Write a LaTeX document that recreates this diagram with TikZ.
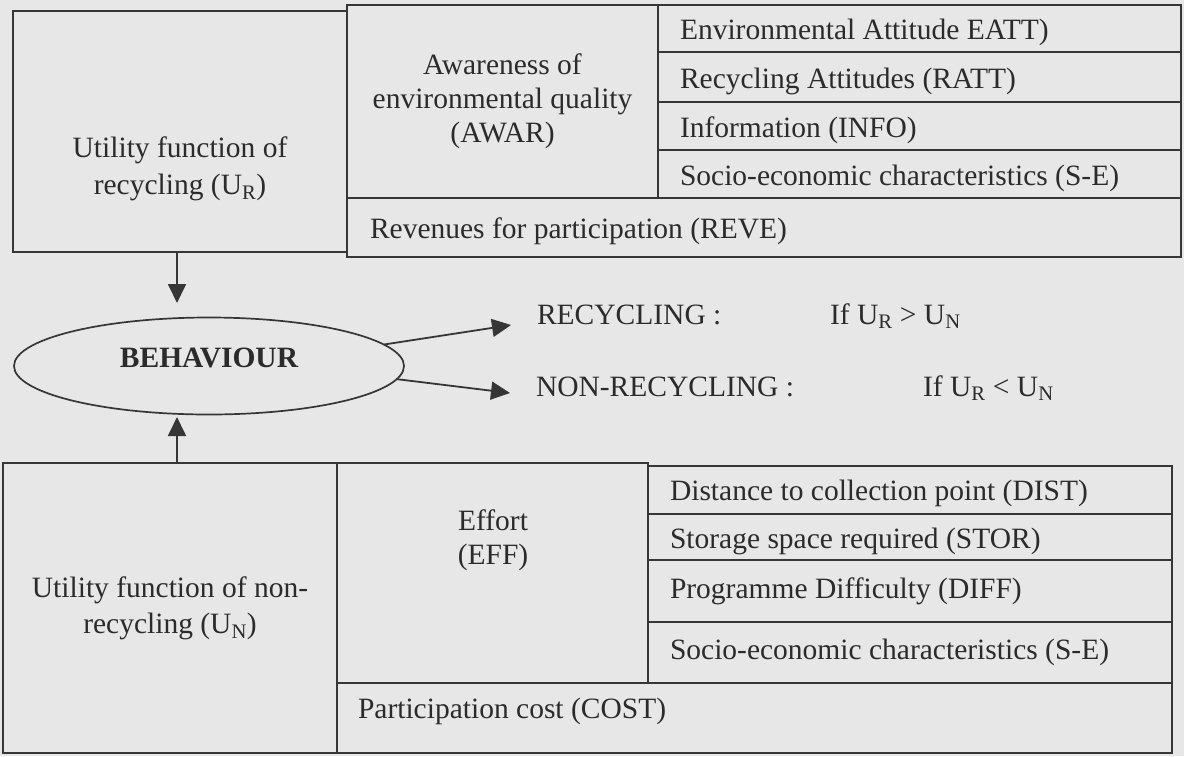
\documentclass[tikz,border=0pt]{standalone}
\usepackage{fontspec}
\setmainfont{Liberation Serif}
\usetikzlibrary{arrows.meta,shapes.geometric}
\definecolor{paper}{HTML}{E7E7E7}
\definecolor{ink}{HTML}{2B2B2B}
\definecolor{rule}{HTML}{363636}
\begin{document}
\begin{tikzpicture}[x=1pt,y=-1pt,
  txt/.style={text=ink,font=\fontsize{29.5}{34}\selectfont,inner sep=0pt,outer sep=0pt},
  cell/.style={txt,draw=rule,line width=1.9pt,rectangle,anchor=north west},
  rowtext/.style={txt,anchor=base west},
  arr/.style={draw=rule,line width=1.8pt,-{Triangle[length=19pt,width=18pt]}}]
\fill[paper] (0,0) rectangle (1184,756);
\useasboundingbox (0,0) rectangle (1184,756);

% recycling utility block
\node[cell,minimum width=334pt,minimum height=241pt] (ur) at (13,11) {};
\node[txt,align=center,font=\fontsize{29.5}{37}\selectfont] (urtext) at (180,169) {Utility function of\\recycling (U\textsubscript{R})};
\node[cell,minimum width=311pt,minimum height=193pt,align=center] (awar) at (347,5)
  {Awareness of\\environmental quality\\(AWAR)};
\node[cell,minimum width=523pt,minimum height=47pt] (eatt) at (658,5) {};
\node[cell,minimum width=523pt,minimum height=50pt] (ratt) at (658,52) {};
\node[cell,minimum width=523pt,minimum height=48pt] (info) at (658,102) {};
\node[cell,minimum width=523pt,minimum height=48pt] (sea) at (658,150) {};
\node[cell,minimum width=834pt,minimum height=59pt] (reve) at (347,198) {};
\node[rowtext] (eattt) at (680,39) {Environmental Attitude EATT)};
\node[rowtext] (rattt) at (680,88) {Recycling Attitudes (RATT)};
\node[rowtext] (infot) at (680,137) {Information (INFO)};
\node[rowtext] (seat) at (680,185) {Socio-economic characteristics (S-E)};
\node[rowtext] (revet) at (370,238) {Revenues for participation (REVE)};

% behaviour and its two outcomes
\node[txt,draw=rule,line width=1.7pt,ellipse,minimum width=390pt,minimum height=97pt,
  font=\fontsize{29.5}{34}\selectfont\bfseries,text height=0.66em,text depth=0.4em] (beh) at (209,366) {BEHAVIOUR};

\node[rowtext] (rec) at (537,324) {RECYCLING :};
\node[rowtext] (recif) at (830,324) {If U\textsubscript{R} > U\textsubscript{N}};
\node[rowtext] (non) at (536,396) {NON-RECYCLING :};
\node[rowtext] (nonif) at (923,396) {If U\textsubscript{R} < U\textsubscript{N}};

% non-recycling utility block
\node[cell,minimum width=334pt,minimum height=290pt,align=center,font=\fontsize{29.5}{36}\selectfont] (un) at (3,463)
  {Utility function of non-\\recycling (U\textsubscript{N})};
\node[cell,minimum width=311pt,minimum height=220pt] (eff) at (337,463) {};
\node[txt,align=center] (efftext) at (493,540) {Effort\\(EFF)};
\node[cell,minimum width=524pt,minimum height=48pt] (dist) at (648,466) {};
\node[cell,minimum width=524pt,minimum height=46pt] (stor) at (648,514) {};
\node[cell,minimum width=524pt,minimum height=62pt] (diff) at (648,560) {};
\node[cell,minimum width=524pt,minimum height=61pt] (seb) at (648,622) {};
\node[cell,minimum width=835pt,minimum height=70pt] (cost) at (337,683) {};
\node[rowtext] (distt) at (670,500) {Distance to collection point (DIST)};
\node[rowtext] (stort) at (670,548) {Storage space required (STOR)};
\node[rowtext] (difft) at (670,598) {Programme Difficulty (DIFF)};
\node[rowtext] (sebt) at (670,659) {Socio-economic characteristics (S-E)};
\node[rowtext] (costt) at (358,718) {Participation cost (COST)};

% connectors
\coordinate (downtip) at (177,303);
\coordinate (uptip) at (177,417);
\coordinate (rtip) at (511,325);
\coordinate (ntip) at (510,393);
\draw[arr] (ur.south -| downtip) -- (downtip);
\draw[arr] (un.north -| uptip) -- (uptip);
\draw[arr] (beh.7) -- (rtip);
\draw[arr] (beh.-4) -- (ntip);
\end{tikzpicture}
\end{document}
